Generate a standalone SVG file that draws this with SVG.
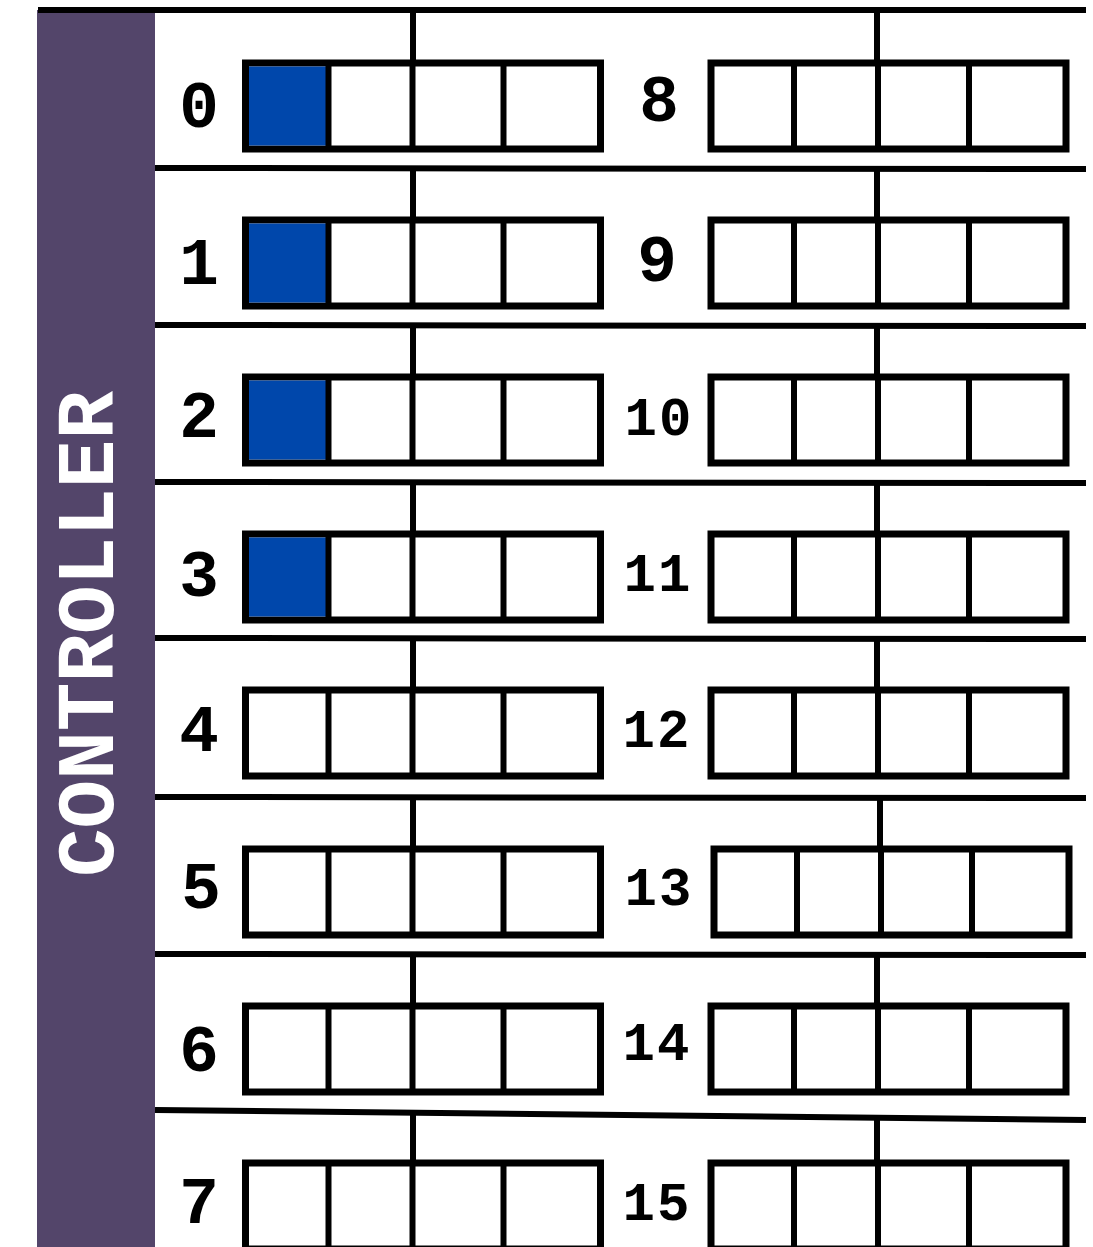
<svg xmlns="http://www.w3.org/2000/svg" width="1093" height="1247" viewBox="0 0 1093 1247">
<style>
.ln{stroke:#000;stroke-width:6;fill:none}
.bx{stroke:#000;stroke-width:7;fill:#fff}
.dv{stroke:#000;stroke-width:6}
.on{fill:#0047AB}
.n1{font-family:"Liberation Mono","Courier New",monospace;font-weight:bold;font-size:66px;text-anchor:middle;fill:#000}
.n2{font-family:"Liberation Mono","Courier New",monospace;font-weight:bold;font-size:54px;text-anchor:middle;fill:#000;letter-spacing:2px}
.ctl{font-family:"Liberation Mono","Courier New",monospace;font-weight:bold;font-size:81px;text-anchor:middle;fill:#fff}
</style>
<rect width="1093" height="1247" fill="#fff"/>
<g id="controller">
<rect x="37" y="10" width="118" height="1237" fill="#53456A"/>
<text class="ctl" transform="translate(113,634) rotate(-90)">CONTROLLER</text>
</g>
<g id="connectors">
<line class="ln" x1="38" y1="10" x2="1086" y2="10"/>
<line class="ln" x1="155" y1="168" x2="1086" y2="169"/>
<line class="ln" x1="155" y1="325" x2="1086" y2="326"/>
<line class="ln" x1="155" y1="482" x2="1086" y2="483"/>
<line class="ln" x1="155" y1="638" x2="1086" y2="639"/>
<line class="ln" x1="155" y1="797" x2="1086" y2="798"/>
<line class="ln" x1="155" y1="954" x2="1086" y2="955"/>
<line class="ln" x1="155" y1="1110" x2="1086" y2="1120"/>
<line class="ln" x1="413" y1="10" x2="413" y2="63"/>
<line class="ln" x1="877" y1="10" x2="877" y2="63"/>
<line class="ln" x1="413" y1="168" x2="413" y2="220"/>
<line class="ln" x1="877" y1="169" x2="877" y2="220"/>
<line class="ln" x1="413" y1="325" x2="413" y2="377"/>
<line class="ln" x1="877" y1="326" x2="877" y2="377"/>
<line class="ln" x1="413" y1="482" x2="413" y2="534"/>
<line class="ln" x1="877" y1="483" x2="877" y2="534"/>
<line class="ln" x1="413" y1="638" x2="413" y2="690"/>
<line class="ln" x1="877" y1="639" x2="877" y2="690"/>
<line class="ln" x1="413" y1="797" x2="413" y2="849"/>
<line class="ln" x1="880" y1="798" x2="880" y2="849"/>
<line class="ln" x1="413" y1="954" x2="413" y2="1006"/>
<line class="ln" x1="877" y1="955" x2="877" y2="1006"/>
<line class="ln" x1="413" y1="1112" x2="413" y2="1163"/>
<line class="ln" x1="877" y1="1118" x2="877" y2="1163"/>
</g>
<defs>
<g id="reg">
<rect class="bx" x="0" y="0" width="355" height="86"/>
<line class="dv" x1="83" y1="0" x2="83" y2="86"/>
<line class="dv" x1="167" y1="0" x2="167" y2="86"/>
<line class="dv" x1="258" y1="0" x2="258" y2="86"/>
</g>
<g id="regOn">
<rect class="bx" x="0" y="0" width="355" height="86"/>
<rect class="on" x="3.5" y="3.5" width="79" height="79"/>
<line class="dv" x1="83" y1="0" x2="83" y2="86"/>
<line class="dv" x1="167" y1="0" x2="167" y2="86"/>
<line class="dv" x1="258" y1="0" x2="258" y2="86"/>
</g>
</defs>
<g id="node-0"><use href="#regOn" x="245.5" y="63"/><text class="n1" x="199" y="127">0</text></g>
<g id="node-1"><use href="#regOn" x="245.5" y="220"/><text class="n1" x="199" y="284">1</text></g>
<g id="node-2"><use href="#regOn" x="245.5" y="377"/><text class="n1" x="199" y="437">2</text></g>
<g id="node-3"><use href="#regOn" x="245.5" y="534"/><text class="n1" x="199" y="596">3</text></g>
<g id="node-4"><use href="#reg" x="245.5" y="690"/><text class="n1" x="199" y="751">4</text></g>
<g id="node-5"><use href="#reg" x="245.5" y="849"/><text class="n1" x="201" y="908">5</text></g>
<g id="node-6"><use href="#reg" x="245.5" y="1006"/><text class="n1" x="199" y="1071">6</text></g>
<g id="node-7"><use href="#reg" x="245.5" y="1163"/><text class="n1" x="199" y="1223">7</text></g>
<g id="node-8"><use href="#reg" x="711" y="63"/><text class="n1" x="659" y="121">8</text></g>
<g id="node-9"><use href="#reg" x="711" y="220"/><text class="n1" x="657" y="281">9</text></g>
<g id="node-10"><use href="#reg" x="711" y="377"/><text class="n2" x="659" y="435">10</text></g>
<g id="node-11"><use href="#reg" x="711" y="534"/><text class="n2" x="658" y="591">11</text></g>
<g id="node-12"><use href="#reg" x="711" y="690"/><text class="n2" x="657" y="747">12</text></g>
<g id="node-13"><use href="#reg" x="714" y="849"/><text class="n2" x="659" y="905">13</text></g>
<g id="node-14"><use href="#reg" x="711" y="1006"/><text class="n2" x="657" y="1060">14</text></g>
<g id="node-15"><use href="#reg" x="711" y="1163"/><text class="n2" x="657" y="1220">15</text></g>
</svg>
